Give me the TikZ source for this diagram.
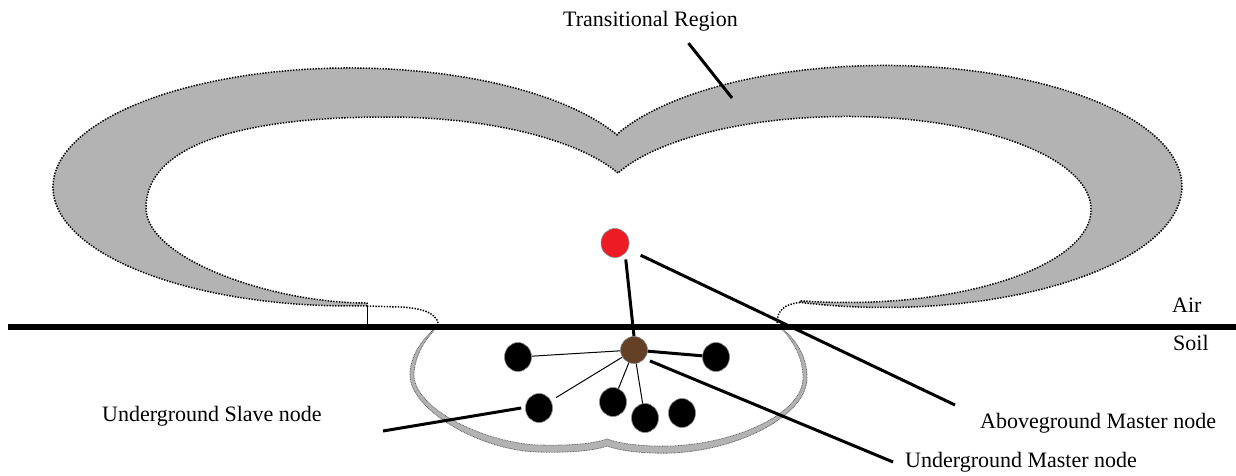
\documentclass[tikz,border=0pt]{standalone}
\usepackage{fontspec}
\setmainfont{Liberation Serif}
\usetikzlibrary{calc,shapes.geometric}
\definecolor{bandgrey}{RGB}{179,179,179}
\definecolor{dotred}{RGB}{237,28,36}
\definecolor{dotbrown}{RGB}{99,64,38}
\begin{document}
\begin{tikzpicture}[x=1pt,y=1pt,
  dotline/.style={draw=black, line width=1.5pt, dash pattern=on 1.4pt off 1.4pt},
  band/.style={fill=bandgrey, dotline},
  bowlline/.style={draw=black!60, line width=0.8pt, dash pattern=on 0.9pt off 0.7pt},
  sensor/.style={ellipse, minimum width=27pt, minimum height=29pt, inner sep=0pt, draw=black!45, line width=0.6pt},
  slave/.style={sensor, fill=black},
  thinlink/.style={line width=1pt},
  thicklink/.style={line width=3pt},
  callout/.style={line width=3pt},
  lbl/.style={anchor=base west, inner sep=0pt, font=\fontsize{22}{26}\selectfont},
]
\useasboundingbox (0,0) rectangle (1236,475);

% transitional region band (two lobes)
\path[band] (617.5,339.7)
  arc[start angle=25.75, end angle=273.3, x radius=297pt, y radius=119pt]
  -- (367,172)
  .. controls (270,172) and (146,217) .. (146,267)
  .. controls (146,326) and (230,358) .. (387,358)
  arc[start angle=90, end angle=23.8, x radius=252.5pt, y radius=94pt]
  -- (618,302)
  arc[start angle=156.9, end angle=90, x radius=249pt, y radius=93pt]
  arc[start angle=90, end angle=-101.1, x radius=244pt, y radius=93pt]
  -- (800,172.6)
  arc[start angle=-106.6, end angle=154.26, x radius=297pt, y radius=121pt]
  -- cycle;

% necks
\draw[dotline] (367,169) -- (400,168) .. controls (422,167) and (436,162) .. (438,152);
\draw[dotline] (800,172.6) .. controls (785,171) and (777,165) .. (777,152);
\draw[line width=0.9pt] (367,169) -- (367,151);

% underground region
\path[fill=bandgrey, bowlline] (438,149) .. controls (420,135) and (410,117) .. (410,100)
  .. controls (410,65) and (480,25) .. (537,23)
  .. controls (575,22) and (596,25) .. (607,29)
  .. controls (618,25) and (640,21) .. (672,22)
  .. controls (740,25) and (807,60) .. (807,97)
  .. controls (807,120) and (795,137) .. (779,149) -- cycle;
\path[fill=white, bowlline] (438,149) .. controls (424,135) and (414,117) .. (414,100)
  .. controls (414,67) and (482,33) .. (537,30)
  .. controls (575,29) and (596,32) .. (607,36)
  .. controls (618,32) and (640,28) .. (672,29)
  .. controls (738,32) and (803,62) .. (803,97)
  .. controls (803,119) and (792,136) .. (779,149) -- cycle;

% ground line
\draw[line width=6.5pt] (8,148) -- (1236,148);

% nodes
\node[sensor, fill=dotred, minimum width=28pt] (red) at (615,232) {};
\node[sensor, fill=dotbrown, minimum width=27pt, minimum height=27pt] (brown) at (634,125) {};
\node[slave] (b1) at (518,118) {};
\node[slave] (b2) at (716,118) {};
\node[slave] (b3) at (539,67) {};
\node[slave] (b4) at (613,73) {};
\node[slave] (b5) at (645,57) {};
\node[slave] (b6) at (682,62) {};

% labels
\node[lbl] (trlabel) at (563,448.3) {Transitional Region};
\node[lbl] (air) at (1172,162.5) {Air};
\node[lbl] (soil) at (1173,125) {Soil};
\node[lbl] (amlabel) at (980,47) {Aboveground Master node};
\node[lbl] (umlabel) at (905,8) {Underground Master node};
\node[lbl] (sllabel) at (102,53.3) {Underground Slave node};

\coordinate (trEnd) at (732,377);
\coordinate (amEnd) at (955,70);
\coordinate (umEnd) at (893,13);
\coordinate (slEnd) at (383,44);

% links
\draw[thicklink, shorten <=6pt] (red.south east) -- (brown.north);
\draw[thinlink] (brown) -- (b1);
\draw[thicklink] (brown) -- (b2);
\draw[thinlink, shorten >=6pt] (brown) -- (b3);
\draw[thinlink] (brown) -- (b4);
\draw[thinlink] (brown) -- (b5);

% callouts
\draw[callout] ([shift={(38,-11.5)}]trlabel.south) -- (trEnd);
\draw[callout, shorten <=14pt] (red) -- (amEnd);
\draw[callout] ([shift={(4,-4)}]brown.-30) -- (umEnd);
\draw[callout] ([xshift=-4pt]b3.west) -- (slEnd);
\end{tikzpicture}
\end{document}
